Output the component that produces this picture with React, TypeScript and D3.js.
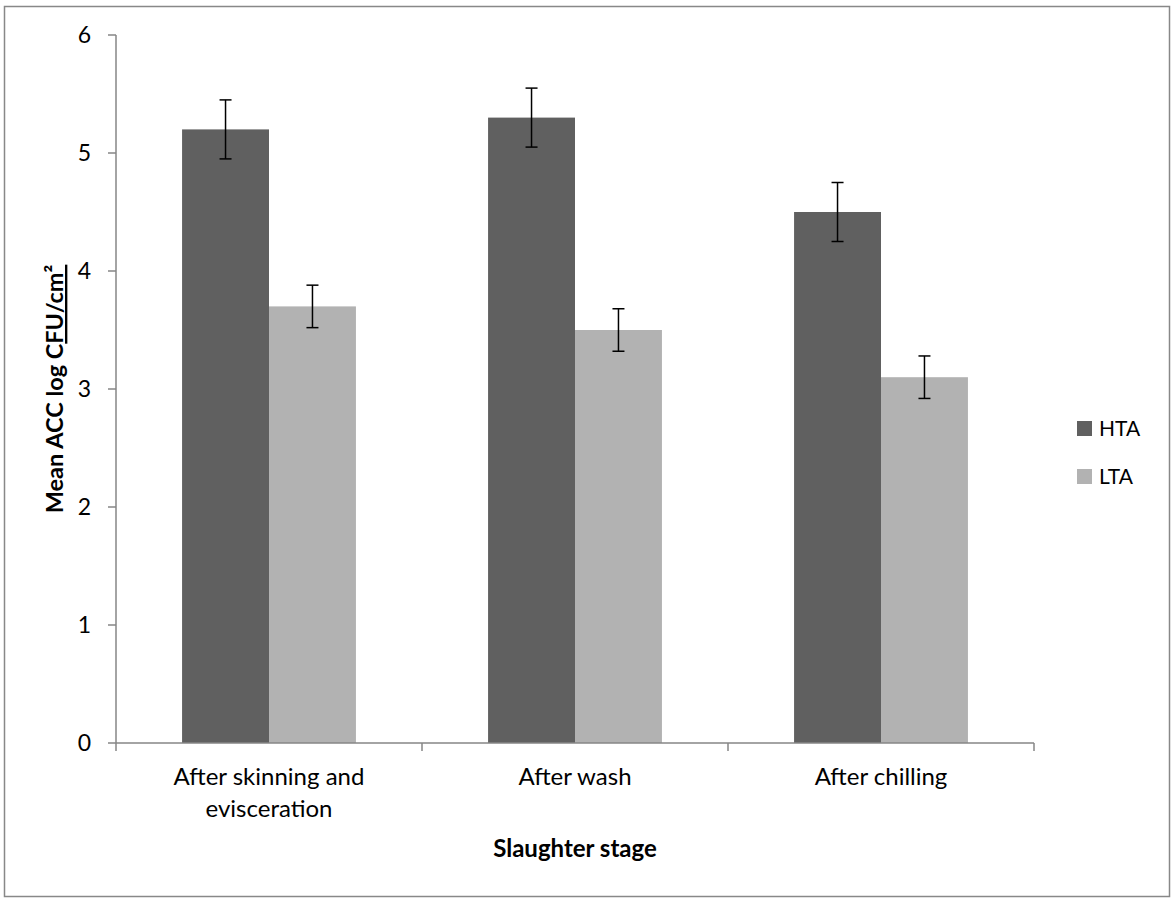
import React, { useEffect, useRef } from "react";
import * as d3 from "d3";

// chart values
const stages = ["After skinning and evisceration", "After wash", "After chilling"];
const stageLines = [["After skinning and", "evisceration"], ["After wash"], ["After chilling"]];
const series = ["HTA", "LTA"];
const hta = [5.2, 5.3, 4.5];
const lta = [3.7, 3.5, 3.1];
const htaErr = [0.25, 0.25, 0.25];
const ltaErr = [0.18, 0.18, 0.18];
const yTicks = [0, 1, 2, 3, 4, 5, 6];
const colors = ["#606060", "#b2b2b2"];

const W = 1171;
const H = 898;
const FONT = "Lato, 'Open Sans', sans-serif";

export default function App() {
  const ref = useRef<SVGSVGElement>(null);

  useEffect(() => {
    const svg = d3.select(ref.current);
    svg.selectAll("*").remove();

    const plot = { left: 116, right: 1034, top: 35, bottom: 743 };

    // outer border
    svg.append("rect")
      .attr("x", 4.5).attr("y", 6.5)
      .attr("width", 1165).attr("height", 890)
      .attr("fill", "white").attr("stroke", "#888").attr("stroke-width", 1.5);

    const x0 = d3.scaleBand().domain(stages).range([plot.left, plot.right]).paddingInner(0).paddingOuter(0);
    const x1 = d3.scaleBand().domain(series).range([0, x0.bandwidth()]).paddingInner(0).paddingOuter(0.76);
    const y = d3.scaleLinear().domain([0, 6]).range([plot.bottom, plot.top]);

    const data = [hta, lta];
    const errs = [htaErr, ltaErr];

    series.forEach((s, si) => {
      const g = svg.append("g");
      g.selectAll("rect")
        .data(stages)
        .enter()
        .append("rect")
        .attr("x", (d) => x0(d)! + x1(s)!)
        .attr("y", (d, i) => y(data[si][i]))
        .attr("width", x1.bandwidth())
        .attr("height", (d, i) => y(0) - y(data[si][i]))
        .attr("fill", colors[si]);
    });

    // axes
    const axisColor = "#868686";
    svg.append("line")
      .attr("x1", plot.left).attr("x2", plot.left)
      .attr("y1", plot.top).attr("y2", plot.bottom)
      .attr("stroke", axisColor).attr("stroke-width", 1.5);
    svg.append("line")
      .attr("x1", plot.left).attr("x2", plot.right)
      .attr("y1", plot.bottom).attr("y2", plot.bottom)
      .attr("stroke", axisColor).attr("stroke-width", 1.5);

    yTicks.forEach((t) => {
      svg.append("line")
        .attr("x1", plot.left - 8).attr("x2", plot.left)
        .attr("y1", y(t)).attr("y2", y(t))
        .attr("stroke", axisColor).attr("stroke-width", 1.5);
      svg.append("text")
        .attr("x", 91).attr("y", y(t) + 8)
        .attr("text-anchor", "end")
        .attr("font-family", FONT).attr("font-size", 23)
        .text(t);
    });

    const bounds = stages.map((d) => x0(d)!).concat([plot.right]);
    bounds.forEach((b) => {
      svg.append("line")
        .attr("x1", b).attr("x2", b)
        .attr("y1", plot.bottom).attr("y2", plot.bottom + 8)
        .attr("stroke", axisColor).attr("stroke-width", 1.5);
    });

    // error bars
    series.forEach((s, si) => {
      stages.forEach((d, i) => {
        const cx = x0(d)! + x1(s)! + x1.bandwidth() / 2;
        const v = data[si][i];
        const e = errs[si][i];
        const g = svg.append("g").attr("stroke", "black").attr("stroke-width", 1.5);
        g.append("line").attr("x1", cx).attr("x2", cx).attr("y1", y(v + e)).attr("y2", y(v - e));
        g.append("line").attr("x1", cx - 6).attr("x2", cx + 6).attr("y1", y(v + e)).attr("y2", y(v + e));
        g.append("line").attr("x1", cx - 6).attr("x2", cx + 6).attr("y1", y(v - e)).attr("y2", y(v - e));
      });
    });

    // category labels
    stages.forEach((d, i) => {
      const cx = x0(d)! + x0.bandwidth() / 2;
      const t = svg.append("text")
        .attr("x", cx)
        .attr("y", 785)
        .attr("text-anchor", "middle")
        .attr("font-family", FONT).attr("font-size", 24);
      stageLines[i].forEach((ln, li) => {
        t.append("tspan").attr("x", cx).attr("dy", li === 0 ? 0 : 32).text(ln);
      });
    });

    // axis titles
    svg.append("text")
      .attr("x", (plot.left + plot.right) / 2).attr("y", 857)
      .attr("text-anchor", "middle")
      .attr("font-family", FONT).attr("font-size", 24).attr("font-weight", "bold")
      .text("Slaughter stage");

    const yt = svg.append("text")
      .attr("transform", `translate(63,${(plot.top + plot.bottom) / 2}) rotate(-90)`)
      .attr("text-anchor", "middle")
      .attr("font-family", FONT).attr("font-size", 23.5).attr("font-weight", "bold");
    yt.append("tspan").text("Mean ACC log C");
    yt.append("tspan").attr("text-decoration", "underline").text("FU/cm²");

    // legend
    series.forEach((s, si) => {
      const ly = 428.5 + si * 48;
      svg.append("rect")
        .attr("x", 1077).attr("y", ly - 7.5)
        .attr("width", 15).attr("height", 15)
        .attr("fill", colors[si]);
      svg.append("text")
        .attr("x", 1099).attr("y", ly + 7.5)
        .attr("font-family", FONT).attr("font-size", 21)
        .text(s);
    });
  }, []);

  return (
    <svg
      ref={ref}
      width={W}
      height={H}
      style={{ position: "absolute", left: 0, top: 0, background: "white" }}
    />
  );
}
